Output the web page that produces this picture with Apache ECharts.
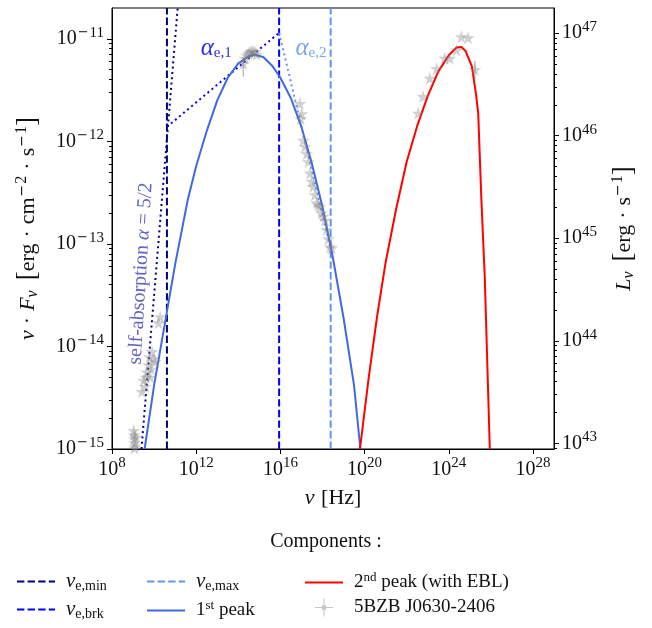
<!DOCTYPE html>
<html><head><meta charset="utf-8">
<script src="https://cdn.jsdelivr.net/npm/echarts@6/dist/echarts.min.js"></script>
<style>html,body{margin:0;padding:0;background:#fff}#c{width:652px;height:628px}</style>
</head><body><div id="c"></div>
<script>
// ---- axis ranges / ticks (log10 units) ----
const xRange = [8, 29];
const yRange = [-15, -10.7];
const xTickExp = [8, 12, 16, 20, 24, 28];
const yTickExp = [-15, -14, -13, -12, -11];
const rTickExp = [43, 44, 45, 46, 47];
const lumOffset = 57.945; // log10(L_nu / nuF_nu)

// ---- characteristic frequencies (log10 Hz) ----
const nuMinLog = 10.61;
const nuBrkLog = 15.94;
const nuMaxLog = 18.39;

// ---- broken power-law guides (log10) ----
const selfAbsLogNu = [9.40, 11.12];
const selfAbsLogF  = [-15.0, -10.70];
const alpha1LogNu  = [10.61, 15.94];
const alpha1LogF   = [-11.86, -10.942];
const alpha2LogNu  = [15.94, 18.39];
const alpha2LogF   = [-10.942, -13.05];

// ---- 1st peak (log10) ----
const peak1LogNu = [9.55, 10.0, 10.61, 11.0, 11.6, 12.0, 12.5, 13.0, 13.5, 14.0, 14.5, 14.8, 15.2, 15.6, 16.0, 16.5, 17.0, 17.5, 18.0, 18.5, 19.0, 19.5, 19.8];
const peak1LogF  = [-15.0, -14.38, -13.66, -13.2, -12.57, -12.24, -11.9, -11.6, -11.38, -11.24, -11.17, -11.155, -11.18, -11.26, -11.38, -11.58, -11.86, -12.22, -12.64, -13.14, -13.72, -14.38, -15.0];

// ---- 2nd peak (with EBL) (log10) ----
const peak2LogNu = [19.78, 20.2, 20.6, 21.0, 21.5, 22.0, 22.5, 23.0, 23.5, 24.0, 24.37, 24.6, 24.8, 25.1, 25.3, 25.4, 25.55, 25.71, 25.95];
const peak2LogF  = [-15.0, -14.3, -13.7, -13.18, -12.66, -12.2, -11.85, -11.56, -11.32, -11.16, -11.085, -11.08, -11.12, -11.27, -11.55, -11.73, -12.57, -13.32, -15.0];

// ---- observed SED 5BZB J0630-2406 (log10) ----
const obsLogNu = [
  9.03, 9.05, 9.07, 9.08, 9.10, 9.12, 9.06,
  9.42, 9.50, 9.58, 9.66, 9.74, 9.82, 9.90, 9.97, 10.05, 9.62, 9.78, 9.86, 10.21, 10.29,
  14.24, 14.32, 14.40, 14.48, 14.56, 14.64, 14.72, 14.80, 14.88,
  16.93, 17.01, 16.97, 17.09, 17.17, 17.25, 17.33, 17.41, 17.49, 17.56, 17.64, 17.72, 17.80, 17.88, 17.96, 18.04, 18.12, 18.20, 18.28, 18.36, 18.44,
  22.545, 22.78, 23.10, 23.42, 23.81, 24.05, 24.37, 24.60, 24.92, 25.24
];
const obsLogF = [
  -14.82, -14.86, -14.90, -14.94, -14.97, -14.88, -14.99,
  -14.44, -14.33, -14.39, -14.25, -14.18, -14.30, -14.05, -14.12, -14.15, -14.30, -14.10, -14.22, -13.77, -13.71,
  -11.24, -11.19, -11.16, -11.14, -11.13, -11.12, -11.125, -11.13, -11.15,
  -11.63, -11.73, -11.78, -11.99, -12.05, -12.12, -12.20, -12.31, -12.39, -12.44, -12.52, -12.60, -12.62, -12.64, -12.70, -12.73, -12.77, -12.86, -12.95, -13.03, -13.04,
  -11.726, -11.564, -11.384, -11.29, -11.19, -11.19, -11.11, -10.98, -10.99, -11.30
];
const errLogNu = [14.24, 25.24];
const errLogLo = [-11.37, -11.42];
const errLogHi = [-11.18, -11.22];

// ---- build helpers ----
const zip = (a, b) => a.map((v, i) => [v, b[i]]);
const minorLeft = [];
for (let e = -15; e < -10; e++) for (let k = 2; k <= 9; k++) {
  const v = e + Math.log10(k); if (v < yRange[1]) minorLeft.push(+v.toFixed(5));
}
const rRange = [yRange[0] + lumOffset, yRange[1] + lumOffset];
const minorRight = [];
for (let e = 42; e < 48; e++) for (let k = 2; k <= 9; k++) {
  const v = e + Math.log10(k); if (v > rRange[0] && v < rRange[1]) minorRight.push(+v.toFixed(5));
}

const FONT = '"Liberation Serif", "DejaVu Serif", serif';
const MFONT = '"DejaVu Serif", serif';
const MINUS = '\u2212';
const expFmt = v => {
  const e = Math.round(v);
  return '{b|10}' + (e < 0 ? '{m|' + MINUS + '}{s|' + (-e) + '}' : '{s|' + e + '}');
};
const tickRich = {
  b: { fontFamily: FONT, fontSize: 20, color: '#111' },
  s: { fontFamily: FONT, fontSize: 15, color: '#111', padding: [0, 0, 12, 0] },
  m: { fontFamily: MFONT, fontSize: 13, color: '#111', padding: [0, 1, 12, 1] }
};
const nameRich = {
  i: { fontFamily: FONT, fontStyle: 'italic', fontSize: 22, color: '#111' },
  t: { fontFamily: FONT, fontSize: 22, color: '#111' },
  d: { fontFamily: FONT, fontSize: 22, color: '#111', padding: [0, 6, 0, 6] },
  sub: { fontFamily: FONT, fontStyle: 'italic', fontSize: 16, color: '#111', padding: [10, 0, 0, 0] },
  sup: { fontFamily: FONT, fontSize: 16, color: '#111', padding: [0, 0, 12, 0] },
  sm: { fontFamily: MFONT, fontSize: 14, color: '#111', padding: [0, 1, 12, 1] },
  br: { fontFamily: FONT, fontSize: 27, color: '#111' }
};

const legendRich = {
  n: { fontFamily: FONT, fontStyle: 'italic', fontSize: 21, color: '#111' },
  sub: { fontFamily: FONT, fontSize: 14, color: '#111', padding: [9, 0, 0, 0] },
  t: { fontFamily: FONT, fontSize: 19, color: '#111' },
  sup: { fontFamily: FONT, fontSize: 13, color: '#111', padding: [0, 0, 10, 0] }
};
const legendLabels = {
  nuMin: '{n|ν}{sub|e,min}',
  nuBrk: '{n|ν}{sub|e,brk}',
  nuMax: '{n|ν}{sub|e,max}',
  peak1: '{t|1}{sup|st}{t| peak}',
  peak2: '{t|2}{sup|nd}{t| peak (with EBL)}',
  obs: '{t|5BZB J0630-2406}'
};
const dashIcon = 'path://M0,0h7.4v2H0z M10.6,0h7.4v2h-7.4z M21.2,0h7.4v2h-7.4z M31.8,0h6.2v2h-6.2z';
const solidIcon = 'path://M0,0h38v2H0z';
const crossIcon = 'path://M0,9.4h20v1.2H0z M9.4,0h1.2v20h-1.2z M7.5,7.5h5v5h-5z';
const starPath = 'path://M50,0 L61,35 L98,35 L68,57 L79,91 L50,70 L21,91 L32,57 L2,35 L39,35 Z';

const DASH = [7.4, 3.2];
const DOT = [2, 3.3];
function vline(name, x, color) {
  return { name, type: 'line', data: [[x, yRange[0]], [x, yRange[1]]], symbol: 'none',
    lineStyle: { color, width: 2, type: DASH }, itemStyle: { color }, z: 3 };
}
function guide(name, xs, ys, color) {
  return { name, type: 'line', data: zip(xs, ys), symbol: 'none',
    lineStyle: { color, width: 2, type: DOT }, itemStyle: { color }, z: 3 };
}
function legendBlock(left, items) {
  return {
    left, top: 566, orient: 'vertical', itemWidth: 38, itemHeight: 18, itemGap: 6,
    symbolKeepAspect: true, data: items,
    formatter: n => legendLabels[n],
    textStyle: { rich: legendRich, padding: [0, 0, 0, 6] },
    selectedMode: false
  };
}

const chart = echarts.init(document.getElementById('c'), null, { renderer: 'canvas' });
const gridBox = { left: 112, right: 98, top: 8, bottom: 179 };

chart.setOption({
  animation: false,
  backgroundColor: '#fff',
  title: { text: 'Components :', left: 'center', top: 527,
    textStyle: { fontFamily: FONT, fontSize: 20, fontWeight: 'normal', color: '#111' } },
  grid: Object.assign({ show: true, borderColor: '#000', borderWidth: 1, containLabel: false }, gridBox),
  xAxis: [{
    type: 'value', min: xRange[0], max: xRange[1],
    axisLine: { show: true, onZero: false, lineStyle: { color: '#000', width: 1 } },
    axisTick: { show: true, length: 5, customValues: xTickExp, lineStyle: { color: '#000' } },
    axisLabel: { show: true, customValues: xTickExp, margin: 7, formatter: expFmt, rich: tickRich },
    splitLine: { show: false },
    name: '{i|ν}  {t|[Hz]}', nameLocation: 'middle', nameGap: 38,
    nameTextStyle: { rich: nameRich }
  }],
  yAxis: [{
    type: 'value', min: yRange[0], max: yRange[1], position: 'left',
    axisLine: { show: true, onZero: false, lineStyle: { color: '#000', width: 1 } },
    axisTick: { show: true, length: 5, customValues: yTickExp, lineStyle: { color: '#000' } },
    axisLabel: { show: true, customValues: yTickExp, margin: 8, formatter: expFmt, rich: tickRich },
    splitLine: { show: false },
    name: '{i|ν}{d|·}{i|F}{sub|ν}   {br|[}{t|erg}{d|·}{t|cm}{sm|' + MINUS + '}{sup|2}{d|·}{t|s}{sm|' + MINUS + '}{sup|1}{br|]}',
    nameLocation: 'middle', nameGap: 70, nameTextStyle: { rich: nameRich }
  }, {
    type: 'value', min: rRange[0], max: rRange[1], position: 'right',
    axisLine: { show: true, onZero: false, lineStyle: { color: '#000', width: 1 } },
    axisTick: { show: true, length: 5, customValues: rTickExp, lineStyle: { color: '#000' } },
    axisLabel: { show: true, customValues: rTickExp, margin: 8, formatter: expFmt, rich: tickRich },
    splitLine: { show: false },
    name: '{i|L}{sub|ν}   {br|[}{t|erg}{d|·}{t|s}{sm|' + MINUS + '}{sup|1}{br|]}',
    nameLocation: 'middle', nameGap: 56, nameRotate: 90, nameTextStyle: { rich: nameRich }
  }, {
    type: 'value', min: yRange[0], max: yRange[1], position: 'left',
    axisLine: { show: false }, axisLabel: { show: false }, splitLine: { show: false },
    axisTick: { show: true, length: 3, customValues: minorLeft, lineStyle: { color: '#000' } }
  }, {
    type: 'value', min: rRange[0], max: rRange[1], position: 'right',
    axisLine: { show: false }, axisLabel: { show: false }, splitLine: { show: false },
    axisTick: { show: true, length: 3, customValues: minorRight, lineStyle: { color: '#000' } }
  }],
  legend: [
    legendBlock(12, [{ name: 'nuMin', icon: dashIcon }, { name: 'nuBrk', icon: dashIcon }]),
    legendBlock(142, [{ name: 'nuMax', icon: dashIcon }, { name: 'peak1', icon: solidIcon }]),
    legendBlock(300, [{ name: 'peak2', icon: solidIcon },
      { name: 'obs', icon: crossIcon, itemStyle: { color: 'rgba(128,128,128,0.55)' } }])
  ],
  series: [
    vline('nuMin', nuMinLog, '#000080'),
    vline('nuBrk', nuBrkLog, '#0000ff'),
    vline('nuMax', nuMaxLog, '#6495ED'),
    guide('selfAbs', selfAbsLogNu, selfAbsLogF, '#000080'),
    guide('alpha1', alpha1LogNu, alpha1LogF, '#0000ff'),
    guide('alpha2', alpha2LogNu, alpha2LogF, '#6495ED'),
    { name: 'peak1', type: 'line', data: zip(peak1LogNu, peak1LogF), symbol: 'none', smooth: false,
      lineStyle: { color: '#4169E1', width: 2 }, itemStyle: { color: '#4169E1' }, z: 4 },
    { name: 'peak2', type: 'line', data: zip(peak2LogNu, peak2LogF), symbol: 'none', smooth: false,
      lineStyle: { color: '#ff0000', width: 2 }, itemStyle: { color: '#ff0000' }, z: 4 },
    { name: 'obsErr', type: 'custom', z: 5,
      data: errLogNu.map((v, i) => [v, errLogLo[i], errLogHi[i]]),
      encode: { x: 0, y: [1, 2] },
      renderItem: (params, api) => {
        const a = api.coord([api.value(0), api.value(1)]);
        const b = api.coord([api.value(0), api.value(2)]);
        return { type: 'line', shape: { x1: a[0], y1: a[1], x2: b[0], y2: b[1] },
          style: { stroke: 'rgba(128,128,128,0.5)', lineWidth: 1.5 } };
      } },
    { name: 'obs', type: 'scatter', data: zip(obsLogNu, obsLogF), symbol: starPath, symbolSize: 13,
      itemStyle: { color: 'rgba(128,128,128,0.45)' }, z: 6 }
  ]
});

// ---- annotations anchored in data space ----
const P = (x, y) => chart.convertToPixel({ xAxisIndex: 0, yAxisIndex: 0 }, [x, y]);
const pa1 = P(12.95, -11.09), pa2 = P(17.45, -11.09), psa = P(9.37, -13.29);
const annRich = (c, fs, ts) => ({
  a: { fontFamily: FONT, fontStyle: 'italic', fontSize: fs, fill: c },
  s: { fontFamily: FONT, fontSize: 15, fill: c, padding: [10, 0, 0, 0] },
  t: { fontFamily: FONT, fontSize: ts, fill: c }
});
chart.setOption({
  graphic: [
    { type: 'text', x: pa1[0], y: pa1[1], z: 10,
      style: { text: '{a|α}{s|e,1}', rich: annRich('#2d2de6', 25, 18), align: 'center', verticalAlign: 'middle' } },
    { type: 'text', x: pa2[0], y: pa2[1], z: 10,
      style: { text: '{a|α}{s|e,2}', rich: annRich('#7ea3ee', 25, 18), align: 'center', verticalAlign: 'middle' } },
    { type: 'text', x: psa[0], y: psa[1], z: 10, rotation: Math.PI / 180 * 86.5,
      style: { text: '{t|self-absorption }{a|α}{t| = 5/2}', rich: annRich('#6363c4', 20, 20),
        align: 'center', verticalAlign: 'middle' } }
  ]
});
</script>
</body></html>
